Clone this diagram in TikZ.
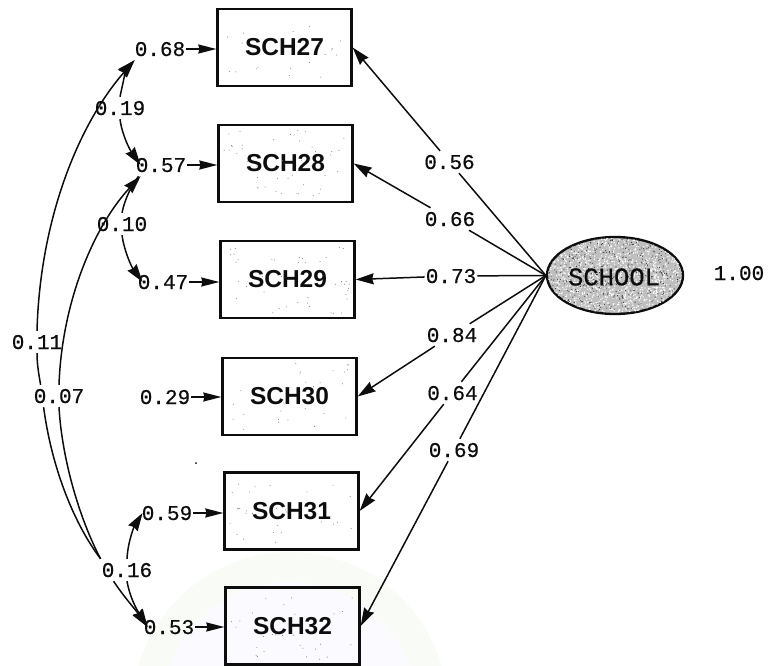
\documentclass[tikz,border=0pt]{standalone}
\usepackage{fontspec}
\setmainfont{Liberation Sans}
\newfontfamily\monof[BoldFont=Liberation Mono,BoldFeatures={FakeBold=0.5}]{Liberation Mono}
\newfontfamily\schoolf{Liberation Mono Bold}
\usetikzlibrary{arrows.meta,shapes.geometric}
\definecolor{ink}{gray}{0.05}
\tikzset{
  boxnode/.style={draw=ink,line width=2.3pt,minimum width=134pt,minimum height=77pt,inner sep=0pt,
    font=\fontsize{24.5}{25}\selectfont\bfseries,text=ink},
  lab/.style={inner xsep=1pt,inner ysep=4pt,text height=14pt,text depth=0pt,
    font=\monof\bfseries\fontsize{21}{21}\selectfont,text=ink},
  conn/.style={draw=ink,line width=1.5pt},
  tipend/.style={conn,-{Stealth[length=18pt,width=11pt,inset=1.5pt]}},
  tipstart/.style={conn,{Stealth[length=18pt,width=11pt,inset=1.5pt]}-},
  errtip/.style={conn,-{Stealth[length=18pt,width=9pt,inset=1pt]}},
}
\newcommand{\specks}[3]{%
  \foreach \i in {1,...,#3}{\fill[black!55] ({#1+62*rand},{#2+34*rand}) circle (0.5pt);}}
\begin{document}
\begin{tikzpicture}[x=1pt,y=-1pt]
\useasboundingbox (0,0) rectangle (769,666);
\pgfmathsetseed{4242}
% faint watermark
\begin{scope}
  \clip (0,0) rectangle (769,666);
  \fill[green!30!olive!3.5] (290,710) circle (158pt);
  \fill[blue!1.5] (290,710) circle (128pt);
\end{scope}
\fill[ink] (196,463) circle (1pt);
% observed variables
\node[boxnode] (sch27) at (284.5,47.5) {SCH27};
\node[boxnode] (sch28) at (285.5,163.5) {SCH28};
\node[boxnode] (sch29) at (287.5,279.5) {SCH29};
\node[boxnode] (sch30) at (289.5,396.5) {SCH30};
\node[boxnode] (sch31) at (291.5,511) {SCH31};
\node[boxnode] (sch32) at (292.5,626) {SCH32};
\specks{284.5}{47.5}{20}
\specks{285.5}{163.5}{45}
\specks{287.5}{279.5}{45}
\specks{289.5}{396.5}{28}
\specks{291.5}{511}{28}
\specks{292.5}{626}{30}
% latent variable
\node[ellipse,draw=ink,line width=2.3pt,fill=gray!50,minimum width=136pt,minimum height=77pt,inner sep=0pt] (school) at (615,275.5) {};
\begin{scope}
  \clip (615,275.5) ellipse (67pt and 37.5pt);
  \foreach \i in {1,...,1200}{\fill[white] ({615+67*rand},{275.5+37.5*rand}) circle (0.75pt);}
  \foreach \i in {1,...,550}{\fill[black!80] ({615+67*rand},{275.5+37.5*rand}) circle (0.55pt);}
\end{scope}
\node[font=\monof\bfseries\fontsize{25.5}{26}\selectfont,text=ink,inner sep=0pt] (schooltext) at (614,277) {SCHOOL};
% labels
\node[lab] (l68) at (160,49) {0.68};
\node[lab] (l57) at (161,165) {0.57};
\node[lab] (l47) at (163,282) {0.47};
\node[lab] (l29) at (165,397) {0.29};
\node[lab] (l59) at (167,513) {0.59};
\node[lab] (l53) at (169,627) {0.53};
\node[lab] (l19) at (120,108) {0.19};
\node[lab] (l10) at (122,224) {0.10};
\node[lab] (l11) at (37,342) {0.11};
\node[lab] (l07) at (59,396) {0.07};
\node[lab] (l16) at (127,570) {0.16};
\node[lab] (l56) at (449.5,162) {0.56};
\node[lab] (l66) at (450,219) {0.66};
\node[lab] (l73) at (451,276) {0.73};
\node[lab] (l84) at (452,335) {0.84};
\node[lab] (l64) at (452.5,393) {0.64};
\node[lab] (l69) at (454,450) {0.69};
\node[lab] (l100) at (739,273) {1.00};
% loadings
\foreach \lb/\bx in {l56/sch27,l66/sch28,l73/sch29,l84/sch30,l64/sch31,l69/sch32}{
  \draw[conn] (school.west) -- (\lb);
  \draw[tipend] (\lb) -- (\bx.east);
}
% error arrows
\foreach \lb/\bx in {l68/sch27,l57/sch28,l47/sch29,l29/sch30,l59/sch31,l53/sch32}{
  \draw[errtip] (\lb.east) -- (\bx.west |- \lb.east);
}
% error covariances
\draw[tipstart] ([xshift=1pt]l68.south west) .. controls (127,68) and (123,82) .. (l19.north);
\draw[tipend] (l19.south) .. controls (122,135) and (130,150) .. ([xshift=6pt]l57.west);
\draw[conn] ([xshift=4pt]l57.south west) .. controls (132,185) and (125,198) .. (l10.north);
\draw[tipend] (l10.south) .. controls (124,250) and (131,266) .. ([xshift=6pt]l47.west);
\draw[tipstart] ([xshift=1pt]l68.south west) .. controls (78,125) and (40,220) .. (l11.north);
\draw[conn] (l11.south) .. controls (37,365) and (39,375) .. ([xshift=8pt]l07.north west);
\draw[conn] ([xshift=11pt]l07.south west) .. controls (52,470) and (75,525) .. (l16.north west);
\draw[tipend] ([xshift=13pt]l16.south west) .. controls (124,597) and (135,609) .. ([xshift=5pt]l53.west);
\draw[tipstart] ([xshift=6pt]l57.south west) .. controls (95,225) and (62,300) .. (l07.north);
\draw[conn] (l07.south) .. controls (62,460) and (80,520) .. (l16.north west);
\draw[tipend] (l16.south) .. controls (130,598) and (137,610) .. ([xshift=5pt]l53.west);
\draw[tipstart] ([xshift=2pt]l59.west) .. controls (135,525) and (128,540) .. (l16.north);
\end{tikzpicture}
\end{document}
